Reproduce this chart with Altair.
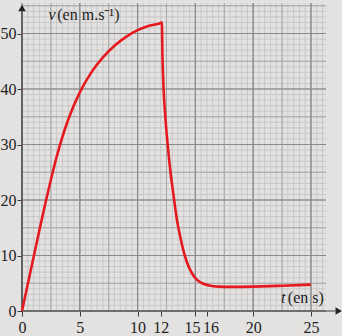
import altair as alt
import pandas as pd
import numpy as np

# ---- data ----
t_values = [0, 1, 2, 3, 4, 5, 6, 7, 8, 9, 10, 11, 12, 12.1,
            12.15, 12.25, 12.4, 12.6, 12.85, 13.1, 13.4, 13.7, 14.0, 14.3, 14.7,
            15.1, 15.6, 16.2, 17, 18, 20, 22.5, 25]
v_values = [0, 9.7, 19.2, 27.8, 34.5, 39.4, 43.0, 45.7, 47.8, 49.4, 50.6, 51.4, 51.9, 52.0,
            46, 40, 35, 30, 25, 21, 16.5, 13.3, 10.6, 8.6, 6.8,
            5.7, 5.0, 4.6, 4.4, 4.35, 4.4, 4.55, 4.75]

x_tick_values = [0, 5, 10, 12, 15, 16, 20, 25]
y_tick_values = [0, 10, 20, 30, 40, 50]

x_title_parts = ["t", "(en s)"]
y_title_parts = ["v", "(en m.s⁻¹)"]

T_MAX = 26.3
V_MAX = 55.5
T_ARROW = 27.4
V_ARROW = 54.6

SERIF = "Times New Roman, Liberation Serif, serif"
BG = "#e3e2e1"
RED = "#e5191e"
AXIS_COL = "#3a3a3a"

x_scale = alt.Scale(domain=[0, T_MAX], nice=False, zero=False)
y_scale = alt.Scale(domain=[0, V_MAX], nice=False, zero=False)

x_axis = alt.Axis(
    values=x_tick_values, title=None, grid=False, domain=False,
    labelFont=SERIF, labelFontSize=16, labelColor="#222",
    tickColor=AXIS_COL, tickSize=5, labelPadding=3, labelFlush=False,
    labelOverlap=False, labelBound=False,
    labelOffset={
        "condition": [
            {"test": "datum.value == 15", "value": -3.5},
            {"test": "datum.value == 16", "value": 3.5},
        ],
        "value": 0,
    },
)
y_axis = alt.Axis(
    values=y_tick_values, title=None, grid=False, domain=False,
    labelFont=SERIF, labelFontSize=16, labelColor="#222",
    tickColor=AXIS_COL, tickSize=5, labelPadding=1, labelFlush=False,
    labelOverlap=False, labelBound=False,
)


def X(field):
    return alt.X(field, scale=x_scale, axis=x_axis, title=None)


def Y(field):
    return alt.Y(field, scale=y_scale, axis=y_axis, title=None)


def vgrid(step):
    xs = np.arange(0, T_MAX + 1e-9, step)
    return pd.DataFrame({"gx": xs, "gy0": 0.0, "gy1": V_MAX})


def hgrid(step):
    ys = np.arange(0, V_MAX + 1e-9, step)
    return pd.DataFrame({"gy": ys, "gx0": 0.0, "gx1": T_MAX})


def vrules(step, color, width):
    return alt.Chart(vgrid(step)).mark_rule(color=color, strokeWidth=width).encode(
        x=X("gx:Q"), y=Y("gy0:Q"), y2="gy1:Q",
    )


def hrules(step, color, width):
    return alt.Chart(hgrid(step)).mark_rule(color=color, strokeWidth=width).encode(
        y=Y("gy:Q"), x=X("gx0:Q"), x2="gx1:Q",
    )


grid_layers = [
    vrules(0.5, "#c4c2c2", 0.8), hrules(1, "#c4c2c2", 0.8),
    vrules(2.5, "#a8a6a6", 1.0), hrules(5, "#a8a6a6", 1.0),
    vrules(5, "#8b8a8a", 1.2), hrules(10, "#8b8a8a", 1.2),
]

curve_df = pd.DataFrame({"t": t_values, "v": v_values})

curve = alt.Chart(curve_df).mark_line(
    color=RED, strokeWidth=2.6, interpolate="monotone"
).encode(x=X("t:Q"), y=Y("v:Q"))

axes_df = pd.DataFrame({
    "ax0": [0.0, 0.0], "ax1": [T_ARROW - 0.3, 0.0],
    "ay0": [0.0, 0.0], "ay1": [0.0, V_ARROW - 0.6],
})
axis_lines = alt.Chart(axes_df).mark_rule(color=AXIS_COL, strokeWidth=1.2).encode(
    x=X("ax0:Q"), x2="ax1:Q", y=Y("ay0:Q"), y2="ay1:Q",
)

head_x_df = pd.DataFrame({"hx": [T_ARROW], "hy": [0.0]})
head_y_df = pd.DataFrame({"hx": [0.0], "hy": [V_ARROW]})
head_x = alt.Chart(head_x_df).mark_point(
    filled=True, color="#222", size=55, opacity=1, shape="triangle-right"
).encode(x=X("hx:Q"), y=Y("hy:Q"))
head_y = alt.Chart(head_y_df).mark_point(
    filled=True, color="#222", size=55, opacity=1, shape="triangle-up"
).encode(x=X("hx:Q"), y=Y("hy:Q"))

labels_df = pd.DataFrame({
    "lx": [22.4, 23.0, 2.3, 3.05],
    "ly": [2.4, 2.4, 53.3, 53.3],
    "txt": [x_title_parts[0], x_title_parts[1], y_title_parts[0], y_title_parts[1]],
    "sty": ["italic", "normal", "italic", "normal"],
})


def label_layer(style):
    return alt.Chart(labels_df).transform_filter(
        alt.datum.sty == style
    ).mark_text(
        font=SERIF, fontSize=16, color="#222", align="left", baseline="middle",
        fontStyle=style,
    ).encode(x=X("lx:Q"), y=Y("ly:Q"), text="txt:N")


chart = alt.layer(
    *grid_layers, axis_lines, curve, head_x, head_y,
    label_layer("italic"), label_layer("normal")
).properties(
    width=304,
    height=308,
    autosize=alt.AutoSizeParams(type="none"),
    padding={"left": 22, "top": 3, "right": 16, "bottom": 25},
    background=BG,
).configure_view(stroke=None)

chart.save("out.html", embed_options={"renderer": "svg", "actions": False})
